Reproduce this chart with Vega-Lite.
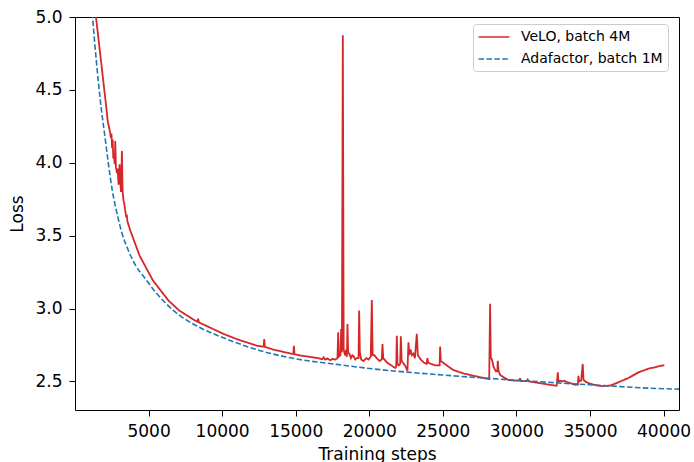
{
  "$schema": "https://vega.github.io/schema/vega-lite/v6.json",
  "width": 604,
  "height": 393,
  "autosize": "none",
  "padding": {"left": 75, "top": 17, "right": 15, "bottom": 52},
  "config": {
    "font": "DejaVu Sans",
    "view": {"stroke": "black", "strokeWidth": 1},
    "axis": {"domain": false, "grid": false, "tickColor": "black", "tickSize": 6, "tickWidth": 1, "labelColor": "black", "titleColor": "black", "labelFontSize": 17, "titleFontSize": 17, "titleFontWeight": "normal", "labelPadding": 7, "labelFont": "DejaVu Sans", "titleFont": "DejaVu Sans"},
    "legend": {"labelFont": "DejaVu Sans"}
  },
  "datasets": {
    "velo": [
      {"step": 1150, "loss": 5.40}, {"step": 1425, "loss": 5.00}, {"step": 1766, "loss": 4.70}, {"step": 2150, "loss": 4.36},
      {"step": 2215, "loss": 4.29}, {"step": 2300, "loss": 4.25}, {"step": 2398, "loss": 4.20}, {"step": 2440, "loss": 4.17},
      {"step": 2480, "loss": 4.20}, {"step": 2520, "loss": 4.10}, {"step": 2560, "loss": 4.16}, {"step": 2600, "loss": 4.03},
      {"step": 2650, "loss": 4.05}, {"step": 2700, "loss": 3.99}, {"step": 2738, "loss": 4.15}, {"step": 2780, "loss": 3.97},
      {"step": 2850, "loss": 3.93}, {"step": 2900, "loss": 3.96}, {"step": 2960, "loss": 3.85}, {"step": 3031, "loss": 3.99},
      {"step": 3080, "loss": 3.86}, {"step": 3130, "loss": 3.80}, {"step": 3190, "loss": 4.08}, {"step": 3235, "loss": 3.80},
      {"step": 3300, "loss": 3.74}, {"step": 3350, "loss": 3.72}, {"step": 3400, "loss": 3.68}, {"step": 3485, "loss": 3.626},
      {"step": 3520, "loss": 3.645}, {"step": 3560, "loss": 3.60}, {"step": 3650, "loss": 3.57}, {"step": 3757, "loss": 3.535},
      {"step": 3850, "loss": 3.51}, {"step": 4390, "loss": 3.363}, {"step": 5299, "loss": 3.192}, {"step": 6360, "loss": 3.054},
      {"step": 7100, "loss": 2.985}, {"step": 8172, "loss": 2.917}, {"step": 8330, "loss": 2.91}, {"step": 8370, "loss": 2.93},
      {"step": 8420, "loss": 2.905}, {"step": 10097, "loss": 2.826}, {"step": 11000, "loss": 2.79}, {"step": 12363, "loss": 2.745},
      {"step": 12820, "loss": 2.738}, {"step": 12860, "loss": 2.791}, {"step": 12900, "loss": 2.737}, {"step": 13500, "loss": 2.718},
      {"step": 14625, "loss": 2.692}, {"step": 14840, "loss": 2.688}, {"step": 14877, "loss": 2.745}, {"step": 14920, "loss": 2.686},
      {"step": 15305, "loss": 2.678}, {"step": 16000, "loss": 2.668}, {"step": 16500, "loss": 2.660}, {"step": 16800, "loss": 2.652},
      {"step": 16900, "loss": 2.665}, {"step": 17000, "loss": 2.650}, {"step": 17150, "loss": 2.658}, {"step": 17343, "loss": 2.645},
      {"step": 17500, "loss": 2.655}, {"step": 17700, "loss": 2.650}, {"step": 17840, "loss": 2.660}, {"step": 17886, "loss": 2.837},
      {"step": 17930, "loss": 2.670}, {"step": 18040, "loss": 2.680}, {"step": 18090, "loss": 2.860}, {"step": 18140, "loss": 2.700},
      {"step": 18203, "loss": 4.874}, {"step": 18260, "loss": 2.720}, {"step": 18350, "loss": 2.680}, {"step": 18400, "loss": 2.700},
      {"step": 18480, "loss": 2.670}, {"step": 18519, "loss": 2.894}, {"step": 18560, "loss": 2.700}, {"step": 18650, "loss": 2.690},
      {"step": 18750, "loss": 2.660}, {"step": 18850, "loss": 2.680}, {"step": 18950, "loss": 2.670}, {"step": 19050, "loss": 2.650},
      {"step": 19150, "loss": 2.660}, {"step": 19270, "loss": 2.660}, {"step": 19312, "loss": 2.986}, {"step": 19360, "loss": 2.700},
      {"step": 19450, "loss": 2.650}, {"step": 19600, "loss": 2.640}, {"step": 19800, "loss": 2.660}, {"step": 19950, "loss": 2.650},
      {"step": 20100, "loss": 2.670}, {"step": 20174, "loss": 3.059}, {"step": 20230, "loss": 2.680}, {"step": 20350, "loss": 2.680},
      {"step": 20500, "loss": 2.660}, {"step": 20700, "loss": 2.640}, {"step": 20850, "loss": 2.650}, {"step": 20897, "loss": 2.757},
      {"step": 20950, "loss": 2.660}, {"step": 21195, "loss": 2.630}, {"step": 21500, "loss": 2.610}, {"step": 21758, "loss": 2.592},
      {"step": 21830, "loss": 2.600}, {"step": 21871, "loss": 2.814}, {"step": 21920, "loss": 2.620}, {"step": 22000, "loss": 2.610},
      {"step": 22100, "loss": 2.620}, {"step": 22145, "loss": 2.810}, {"step": 22200, "loss": 2.640}, {"step": 22438, "loss": 2.608},
      {"step": 22595, "loss": 2.573}, {"step": 22664, "loss": 2.768}, {"step": 22720, "loss": 2.680}, {"step": 22800, "loss": 2.720},
      {"step": 22900, "loss": 2.680}, {"step": 23000, "loss": 2.690}, {"step": 23100, "loss": 2.660}, {"step": 23230, "loss": 2.826},
      {"step": 23300, "loss": 2.680}, {"step": 23500, "loss": 2.650}, {"step": 23700, "loss": 2.630}, {"step": 23900, "loss": 2.620},
      {"step": 23953, "loss": 2.660}, {"step": 24000, "loss": 2.630}, {"step": 24200, "loss": 2.620}, {"step": 24500, "loss": 2.610},
      {"step": 24780, "loss": 2.610}, {"step": 24815, "loss": 2.740}, {"step": 24860, "loss": 2.640}, {"step": 25000, "loss": 2.630},
      {"step": 25400, "loss": 2.600}, {"step": 25720, "loss": 2.578}, {"step": 26400, "loss": 2.555}, {"step": 27080, "loss": 2.539},
      {"step": 27760, "loss": 2.524}, {"step": 28150, "loss": 2.516}, {"step": 28211, "loss": 3.032}, {"step": 28260, "loss": 2.660},
      {"step": 28325, "loss": 2.654}, {"step": 28450, "loss": 2.600}, {"step": 28600, "loss": 2.570}, {"step": 28700, "loss": 2.570},
      {"step": 28735, "loss": 2.642}, {"step": 28780, "loss": 2.575}, {"step": 28891, "loss": 2.545}, {"step": 29100, "loss": 2.530},
      {"step": 29455, "loss": 2.510}, {"step": 29900, "loss": 2.505}, {"step": 30210, "loss": 2.505}, {"step": 30250, "loss": 2.523},
      {"step": 30290, "loss": 2.503}, {"step": 30700, "loss": 2.502}, {"step": 30770, "loss": 2.513}, {"step": 30840, "loss": 2.500},
      {"step": 31200, "loss": 2.495}, {"step": 31720, "loss": 2.486}, {"step": 32400, "loss": 2.475}, {"step": 32740, "loss": 2.470},
      {"step": 32810, "loss": 2.562}, {"step": 32860, "loss": 2.500}, {"step": 33000, "loss": 2.505}, {"step": 33150, "loss": 2.500},
      {"step": 33250, "loss": 2.505}, {"step": 33450, "loss": 2.495}, {"step": 33700, "loss": 2.487}, {"step": 33985, "loss": 2.477},
      {"step": 34180, "loss": 2.478}, {"step": 34210, "loss": 2.539}, {"step": 34260, "loss": 2.500}, {"step": 34400, "loss": 2.505},
      {"step": 34508, "loss": 2.620}, {"step": 34560, "loss": 2.510}, {"step": 34750, "loss": 2.495}, {"step": 35000, "loss": 2.485},
      {"step": 35400, "loss": 2.474}, {"step": 35797, "loss": 2.468}, {"step": 36363, "loss": 2.471}, {"step": 36929, "loss": 2.494},
      {"step": 37608, "loss": 2.523}, {"step": 38287, "loss": 2.562}, {"step": 38966, "loss": 2.587}, {"step": 39645, "loss": 2.603},
      {"step": 40052, "loss": 2.612}
    ],
    "adafactor": [
      {"step": 1000, "loss": 5.30}, {"step": 1198, "loss": 5.00}, {"step": 1450, "loss": 4.70}, {"step": 1719, "loss": 4.43},
      {"step": 2058, "loss": 4.16}, {"step": 2262, "loss": 4.00}, {"step": 2534, "loss": 3.81}, {"step": 2873, "loss": 3.645},
      {"step": 3213, "loss": 3.51}, {"step": 3621, "loss": 3.40}, {"step": 4096, "loss": 3.30}, {"step": 4775, "loss": 3.205},
      {"step": 5455, "loss": 3.115}, {"step": 6134, "loss": 3.04}, {"step": 6698, "loss": 2.985}, {"step": 7153, "loss": 2.95},
      {"step": 8287, "loss": 2.88}, {"step": 10326, "loss": 2.79}, {"step": 12588, "loss": 2.711}, {"step": 15080, "loss": 2.654},
      {"step": 17798, "loss": 2.617}, {"step": 20000, "loss": 2.589}, {"step": 25000, "loss": 2.544}, {"step": 28551, "loss": 2.518},
      {"step": 30000, "loss": 2.508}, {"step": 35000, "loss": 2.477}, {"step": 40000, "loss": 2.450}, {"step": 41050, "loss": 2.447}
    ]
  },
  "encoding": {
    "x": {"field": "step", "type": "quantitative", "title": "Training steps",
          "scale": {"domain": [0, 41050], "nice": false, "zero": false},
          "axis": {"values": [5000, 10000, 15000, 20000, 25000, 30000, 35000, 40000], "format": "d", "titlePadding": 7}},
    "y": {"field": "loss", "type": "quantitative", "title": "Loss",
          "scale": {"domain": [2.304, 5.0], "nice": false, "zero": false},
          "axis": {"values": [2.5, 3.0, 3.5, 4.0, 4.5, 5.0], "format": ".1f", "titlePadding": 8}},
    "color": {"field": "run", "type": "nominal", "title": null,
              "scale": {"domain": ["VeLO, batch 4M", "Adafactor, batch 1M"], "range": ["#d62728", "#1f77b4"]},
              "legend": {"orient": "none", "legendX": 398, "legendY": 7, "fillColor": "white", "strokeColor": "#cccccc", "cornerRadius": 3, "padding": 5, "labelFontSize": 14, "labelColor": "black", "symbolType": "M-2.2,0H2.2", "symbolSize": 196, "symbolStrokeWidth": 1.6, "symbolOffset": 8, "labelOffset": 19, "rowPadding": 7}},
    "strokeDash": {"field": "run", "type": "nominal", "title": null,
                   "scale": {"domain": ["VeLO, batch 4M", "Adafactor, batch 1M"], "range": [[1, 0], [5.5, 2.4]]}}
  },
  "layer": [
    {
      "data": {"name": "velo"},
      "transform": [{"calculate": "'VeLO, batch 4M'", "as": "run"}],
      "mark": {"type": "line", "clip": true, "strokeWidth": 1.8, "interpolate": "linear"}
    },
    {
      "data": {"name": "adafactor"},
      "transform": [{"calculate": "'Adafactor, batch 1M'", "as": "run"}],
      "mark": {"type": "line", "clip": true, "strokeWidth": 1.6, "interpolate": "monotone"}
    }
  ]
}
